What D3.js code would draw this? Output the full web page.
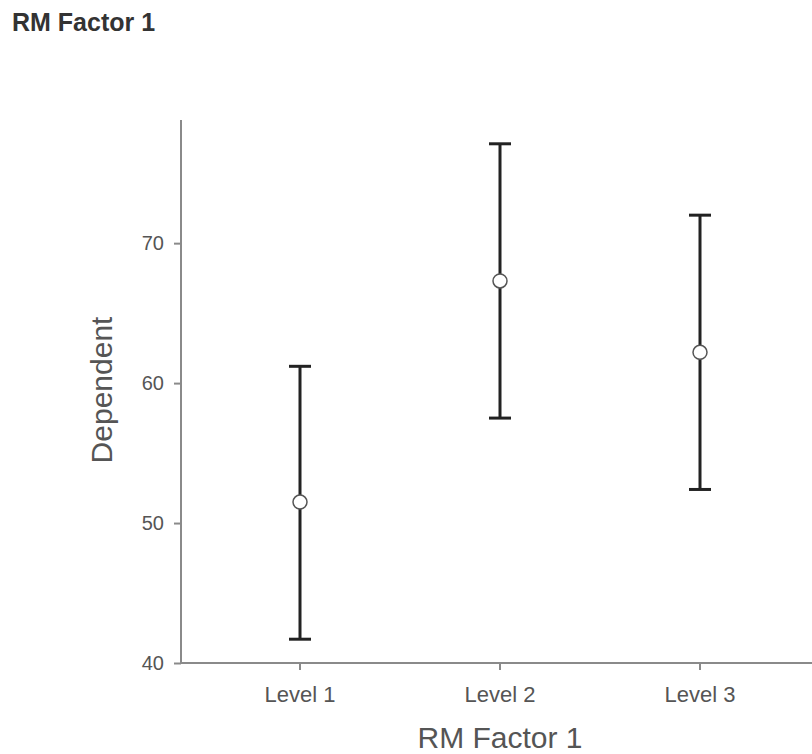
<!DOCTYPE html>
<html>
<head>
<meta charset="utf-8">
<script src="https://cdn.jsdelivr.net/npm/d3@7"></script>
<style>
  body { margin: 0; background: #fff; }
  svg { display: block; font-family: "Liberation Sans", Arial, sans-serif; }
</style>
</head>
<body>
<svg></svg>
<script>
const levels = ["Level 1", "Level 2", "Level 3"];
const means = [51.5, 67.3, 62.2];
const lower = [41.7, 57.5, 52.4];
const upper = [61.2, 77.1, 72.0];
const yTicks = [40, 50, 60, 70];

let width = 812;
let height = 754;

let svg = d3.select("svg").attr("width", width).attr("height", height);

const left = 181;
const bottom = 663;

let xScale = d3.scaleBand().domain(levels).range([200, 800]);
let yScale = d3.scaleLinear().domain([40, 78.8]).range([bottom, 120]);

// title
svg.append("text")
    .attr("x", 12)
    .attr("y", 31)
    .attr("font-size", 25)
    .attr("font-weight", "bold")
    .attr("fill", "#333")
    .text("RM Factor 1");

// axes
const yAxis = d3.axisLeft(yScale).tickValues(yTicks).tickSize(7).tickPadding(10).tickFormat(d3.format("d"));
const xAxis = d3.axisBottom(xScale).tickSize(7).tickPadding(16);

const gy = svg.append("g").attr("transform", "translate(" + left + ",0)").call(yAxis);
const gx = svg.append("g").attr("transform", "translate(0," + bottom + ")").call(xAxis);

gy.select(".domain").remove();
gx.select(".domain").remove();

svg.append("line")
    .attr("x1", left).attr("x2", left)
    .attr("y1", yScale.range()[1]).attr("y2", bottom)
    .attr("stroke", "#8a8a8a").attr("stroke-width", 2);
svg.append("line")
    .attr("x1", left).attr("x2", width)
    .attr("y1", bottom).attr("y2", bottom)
    .attr("stroke", "#8a8a8a").attr("stroke-width", 2);

[gx, gy].forEach(g => {
    g.selectAll(".tick line").attr("stroke", "#8a8a8a").attr("stroke-width", 2);
    g.selectAll(".tick text").attr("fill", "#555").attr("font-size", 20);
});
gx.selectAll(".tick text").attr("font-size", 22);

// axis titles
svg.append("text")
    .attr("x", 500)
    .attr("y", 748)
    .attr("text-anchor", "middle")
    .attr("font-size", 30)
    .attr("fill", "#555")
    .text("RM Factor 1");

svg.append("text")
    .attr("transform", "translate(112,390) rotate(-90)")
    .attr("text-anchor", "middle")
    .attr("font-size", 30)
    .attr("fill", "#555")
    .text("Dependent");

// error bars
const cx = (i) => xScale(levels[i]) + xScale.bandwidth() / 2;
const capHalf = 11;

const bars = svg.append("g").selectAll("g")
    .data(levels)
    .enter()
    .append("g");

bars.append("line")
    .attr("x1", (d, i) => cx(i)).attr("x2", (d, i) => cx(i))
    .attr("y1", (d, i) => yScale(upper[i])).attr("y2", (d, i) => yScale(lower[i]))
    .attr("stroke", "#222").attr("stroke-width", 3);

bars.append("line")
    .attr("x1", (d, i) => cx(i) - capHalf).attr("x2", (d, i) => cx(i) + capHalf)
    .attr("y1", (d, i) => yScale(upper[i])).attr("y2", (d, i) => yScale(upper[i]))
    .attr("stroke", "#222").attr("stroke-width", 3);

bars.append("line")
    .attr("x1", (d, i) => cx(i) - capHalf).attr("x2", (d, i) => cx(i) + capHalf)
    .attr("y1", (d, i) => yScale(lower[i])).attr("y2", (d, i) => yScale(lower[i]))
    .attr("stroke", "#222").attr("stroke-width", 3);

bars.append("circle")
    .attr("cx", (d, i) => cx(i))
    .attr("cy", (d, i) => yScale(means[i]))
    .attr("r", 7)
    .attr("fill", "#fff")
    .attr("stroke", "#555")
    .attr("stroke-width", 1.5);
</script>
</body>
</html>
